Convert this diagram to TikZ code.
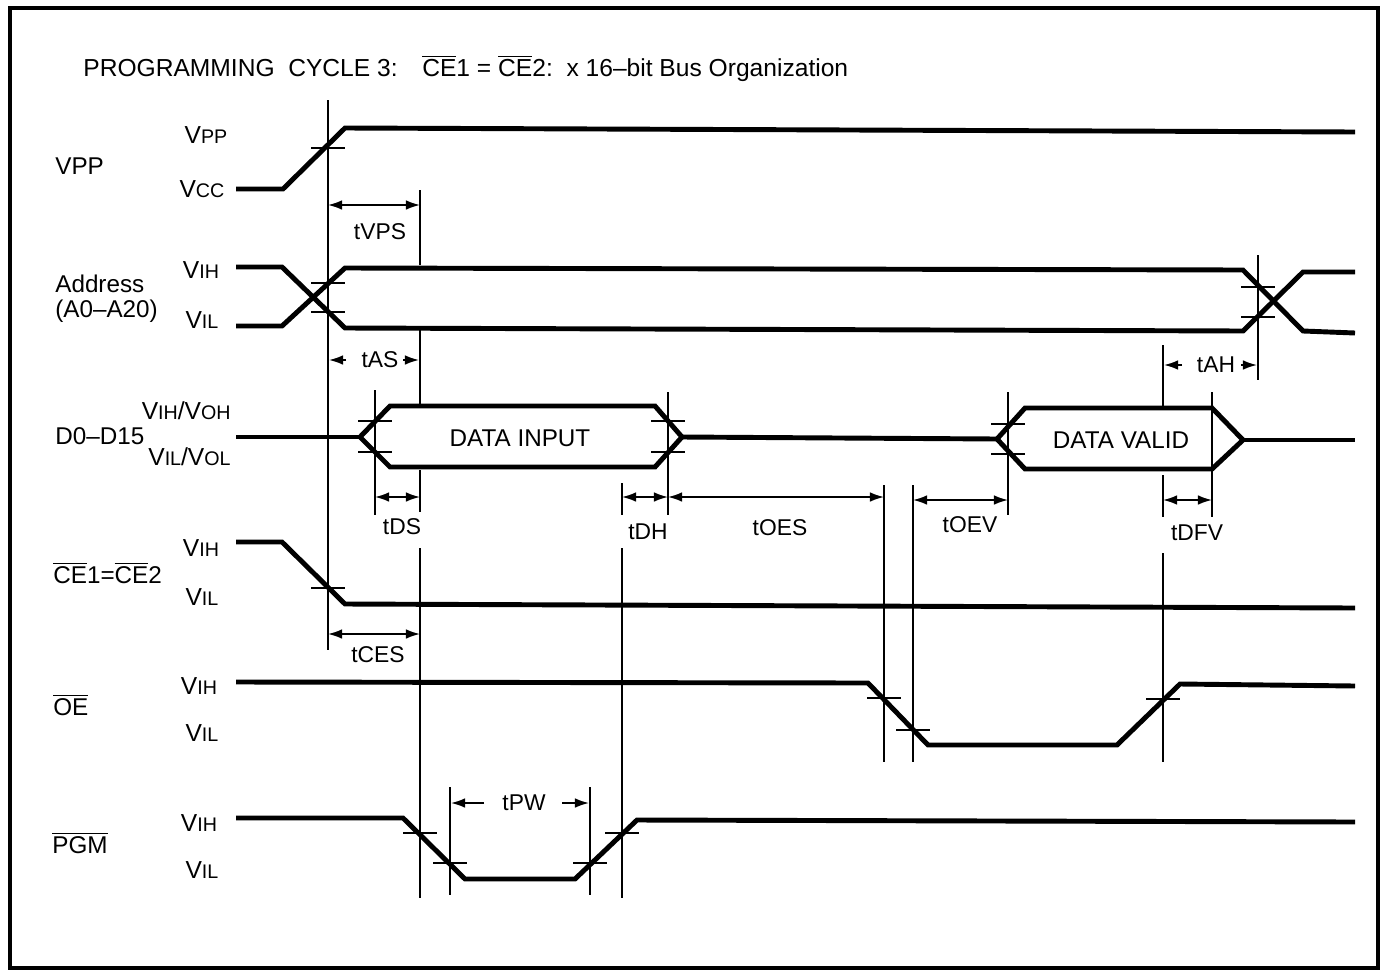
\documentclass[tikz,border=0pt]{standalone}
\usepackage{fontspec}
\setmainfont{Liberation Sans}
\usetikzlibrary{arrows.meta}
\newcommand{\vl}[1]{V{\fontsize{11.2}{12}\selectfont #1}}
\newcommand{\ovl}[1]{\ensuremath{\overline{\mbox{#1}}}}

\begin{document}
\begin{tikzpicture}[x=0.02cm,y=-0.02cm,
  sig/.style={line width=2.8pt,line join=miter},
  tline/.style={line width=1pt},
  dim/.style={line width=1pt,{Latex[length=8pt,width=5.5pt]}-{Latex[length=8pt,width=5.5pt]}},
  half/.style={line width=1pt,-{Latex[length=8pt,width=5.5pt]}},
  lbl/.style={font=\fontsize{13}{15}\selectfont,inner sep=0pt},
  big/.style={font=\fontsize{13.8}{16}\selectfont,inner sep=0pt},
  lvl/.style={font=\fontsize{14}{16}\selectfont,inner sep=0pt}]
\useasboundingbox (0,0) rectangle (1385,970);
\draw[line width=2pt] (10,8) rectangle (1378,968);

\node[lbl,anchor=base west,font=\fontsize{14}{16}\selectfont] (title) at (83,76)
  {PROGRAMMING\ \ CYCLE 3:\quad \ovl{CE}1 = \ovl{CE}2:\ \ x 16--bit Bus Organization};

% signal names
\node[big,anchor=west] (nvpp) at (55,166) {VPP};
\node[big,anchor=west,align=left] (naddr) at (55,299) {Address\\[-2pt](A0--A20)};
\node[big,anchor=west] (ndata) at (55,436) {D0--D15};
\node[big,anchor=west] (nce) at (53,573) {\ovl{CE}1=\ovl{CE}2};
\node[big,anchor=west] (noe) at (53,705) {\ovl{OE}};
\node[big,anchor=west] (npgm) at (52,843) {\ovl{PGM}};

% levels
\node[lvl] (lvpp) at (206,135) {\vl{PP}};
\node[lvl] (lvcc) at (202,189) {\vl{CC}};
\node[lvl] (laih) at (201,270) {\vl{IH}};
\node[lvl] (lail) at (202,320) {\vl{IL}};
\node[lvl,anchor=east] (ldih) at (231,411) {\vl{IH}/\vl{OH}};
\node[lvl,anchor=east] (ldil) at (231,457) {\vl{IL}/\vl{OL}};
\node[lvl] (lcih) at (201,548) {\vl{IH}};
\node[lvl] (lcil) at (202,597) {\vl{IL}};
\node[lvl] (loih) at (199,686) {\vl{IH}};
\node[lvl] (loil) at (202,733) {\vl{IL}};
\node[lvl] (lpih) at (199,823) {\vl{IH}};
\node[lvl] (lpil) at (202,870) {\vl{IL}};

% waveforms
\draw[sig] (236,189) -- (283,189) -- (345,128) -- (1355,132);
\draw[sig] (236,267) -- (282,267) -- (345,328) -- (1243,331) -- (1303,272) -- (1355,272);
\draw[sig] (236,326) -- (282,326) -- (345,268) -- (1243,270) -- (1303,331) -- (1355,333);
\draw[sig] (236,437) -- (360,437);
\draw[sig] (360,437) -- (390,406) -- (655,406) -- (682,437) -- (655,467) -- (390,467) -- cycle;
\draw[sig] (682,437) -- (997,439);
\draw[sig] (997,439) -- (1025,408) -- (1212,408) -- (1243,440) -- (1212,469) -- (1025,469) -- cycle;
\draw[sig] (1243,440) -- (1355,440);
\node[big] (din) at (520,438) {DATA INPUT};
\node[big] (dval) at (1121,440) {DATA VALID};
\draw[sig] (236,542) -- (282,542) -- (345,604) -- (1355,608);
\draw[sig] (236,682) -- (868,683) -- (928,745) -- (1117,745) -- (1180,684) -- (1355,686);
\draw[sig] (236,818) -- (403,818) -- (465,879) -- (575,879) -- (637,820) -- (1355,822);

% timing lines
\draw[tline] (328,100) -- (328,650);
\draw[tline] (420,190) -- (420,265) (420,330) -- (420,405) (420,470) -- (420,512) (420,548) -- (420,898);
\draw[tline] (375,390) -- (375,515);
\draw[tline] (668,392) -- (668,515);
\draw[tline] (622,483) -- (622,515) (622,548) -- (622,898);
\draw[tline] (884,485) -- (884,762);
\draw[tline] (913,485) -- (913,762);
\draw[tline] (1008,392) -- (1008,515);
\draw[tline] (1163,345) -- (1163,407) (1163,475) -- (1163,517) (1163,553) -- (1163,762);
\draw[tline] (1212,392) -- (1212,517);
\draw[tline] (1258,255) -- (1258,380);
\draw[tline] (450,787) -- (450,895);
\draw[tline] (590,787) -- (590,895);

% crossing ticks
\foreach \x/\y in {328/148,328/283,328/312,1258/287,1258/317,375/421,375/452,
  668/421,668/452,1008/424,1008/454,328/588,884/698,913/730,1163/699,
  420/833,450/863,590/863,622/833}
  \draw[tline] (\x-17,\y) -- (\x+17,\y);

% timing parameters
\draw[dim] (328,205) -- (420,205);
\node[lbl] (tvps) at (380,232) {tVPS};
\draw[half] (346,360) -- (329,360);
\draw[half] (403,360) -- (419,360);
\node[lbl] (tas) at (380,360) {tAS};
\draw[half] (1182,365) -- (1164,365);
\draw[half] (1241,365) -- (1257,365);
\node[lbl] (tah) at (1216,365) {tAH};
\draw[dim] (375,497) -- (420,497);
\node[lbl] (tds) at (402,527) {tDS};
\draw[dim] (622,497) -- (668,497);
\node[lbl] (tdh) at (648,532) {tDH};
\draw[dim] (668,497) -- (884,497);
\node[lbl] (toes) at (780,528) {tOES};
\draw[dim] (913,500) -- (1008,500);
\node[lbl] (toev) at (970,525) {tOEV};
\draw[dim] (1163,500) -- (1212,500);
\node[lbl] (tdfv) at (1197,533) {tDFV};
\draw[dim] (328,634) -- (420,634);
\node[lbl] (tces) at (378,655) {tCES};
\draw[half] (484,803) -- (451,803);
\draw[half] (562,803) -- (589,803);
\node[lbl] (tpw) at (524,803) {tPW};
\end{tikzpicture}
\end{document}
